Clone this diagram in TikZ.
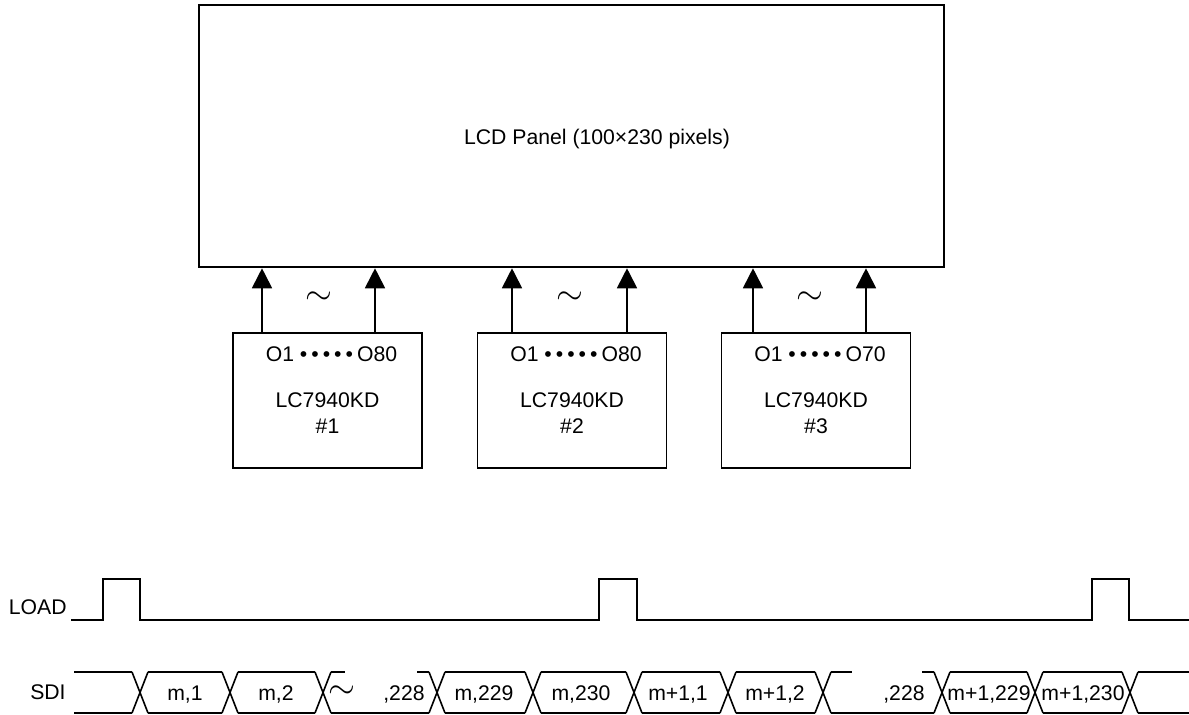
\documentclass[tikz,border=0pt]{standalone}
\usepackage{fontspec}
\setmainfont{Liberation Sans}
\usepackage{tikz}
\usetikzlibrary{arrows.meta}

\newcommand{\pindots}{•\hspace{2pt}•\hspace{2pt}•\hspace{2pt}•\hspace{2pt}•}

\begin{document}
\begin{tikzpicture}[
            x=0.5pt, y=-0.5pt,
            panelbox/.style={
                    draw,
                    line width=1.3pt,
                    minimum width=372.5pt,
                    minimum height=131pt,
                    inner sep=0pt
                },
            chipbox/.style={
                    draw,
                    line width=0.9pt,
                    minimum width=94.5pt,
                    minimum height=67.5pt,
                    inner sep=0pt
                },
            txt/.style={
                    inner sep=0pt,
                    align=center,
                    font=\fontsize{10.6}{13}\selectfont
                },
            wavy/.style={
                    inner sep=0pt,
                    font=\fontsize{17}{17}\selectfont
                },
            arrow/.style={
                    -{Triangle[length=10pt,width=10pt]},
                    line width=0.9pt
                },
            wave/.style={
                    line width=1pt
                },
            bus/.style={
                    line width=0.8pt
                }
        ]

        \useasboundingbox (0,0) rectangle (1189,715);


        \node[panelbox] (panel) at (571.5,136) {};

        \node[txt, anchor=base] (paneltext) at (597,145)
        {LCD Panel (100×230 pixels)};


        \foreach \n/\cx/\xa/\xb/\pins in {1/327.5/262/375/80, 2/572/512/627/80, 3/816/753/866/70} {
                \node[chipbox] (drv\n) at (\cx,400.5) {};
                \node[txt, anchor=base] (pins\n) at (\cx+4,362) {O1 \pindots\hspace{2pt}O\pins};
                \node[txt] (name\n) at (\cx,413.5) {LC7940KD\\\#\n};
                \draw[arrow] (\xa,0 |- drv\n.north) -- (\xa,0 |- panel.south);
                \draw[arrow] (\xb,0 |- drv\n.north) -- (\xb,0 |- panel.south);
                \node[wavy] (gap\n) at ({(\xa+\xb)/2},298) {$\sim$};
            }


        \node[txt, anchor=base east] (load) at (67,615) {LOAD};

        \node[txt, anchor=base east] (sdi) at (66,700) {SDI};


        \draw[wave] (71,620)
        \foreach \a/\b in {103/140, 599/637, 1092/1129} {
                -- (\a,620) -- (\a,579) -- (\b,579) -- (\b,620)
            }
        -- (1189,620);


        \draw[bus] (74,672) -- (132,672) (74,713) -- (132,713);
        \draw[bus] (1138,672) -- (1189,672) (1138,713) -- (1189,713);

        \foreach \a/\b in {140/230, 230/323, 437/533, 533/634, 634/728, 728/823, 942/1035, 1035/1130}
        \draw[bus] (\a+8,672) -- (\b-8,672) (\a+8,713) -- (\b-8,713);

        \draw[bus] (331,672) -- (345,672) (417,672) -- (429,672) (331,713) -- (429,713);
        \draw[bus] (831,672) -- (852,672) (922,672) -- (934,672) (831,713) -- (934,713);

        \foreach \c in {140,230,323,437,533,634,728,823,942,1035,1130}
        \draw[bus] (\c-8,672) -- (\c+8,713) (\c-8,713) -- (\c+8,672);


        \foreach \x/\t in {185/{m,1}, 276/{m,2}, 484/{m,229}, 581/{m,230}, 678/{m+1,1}, 775/{m+1,2}, 989/{m+1,229}, 1083/{m+1,230}}
        \node[txt, anchor=base] (cell\x) at (\x,700.5) {\t};

        \node[txt, anchor=base east] (skipA) at (425,700.5) {,228};
        \node[txt, anchor=base east] (skipB) at (925,700.5) {,228};
        \node[wavy] (skiptilde) at (342,692) {$\sim$};


    \end{tikzpicture}
\end{document}
